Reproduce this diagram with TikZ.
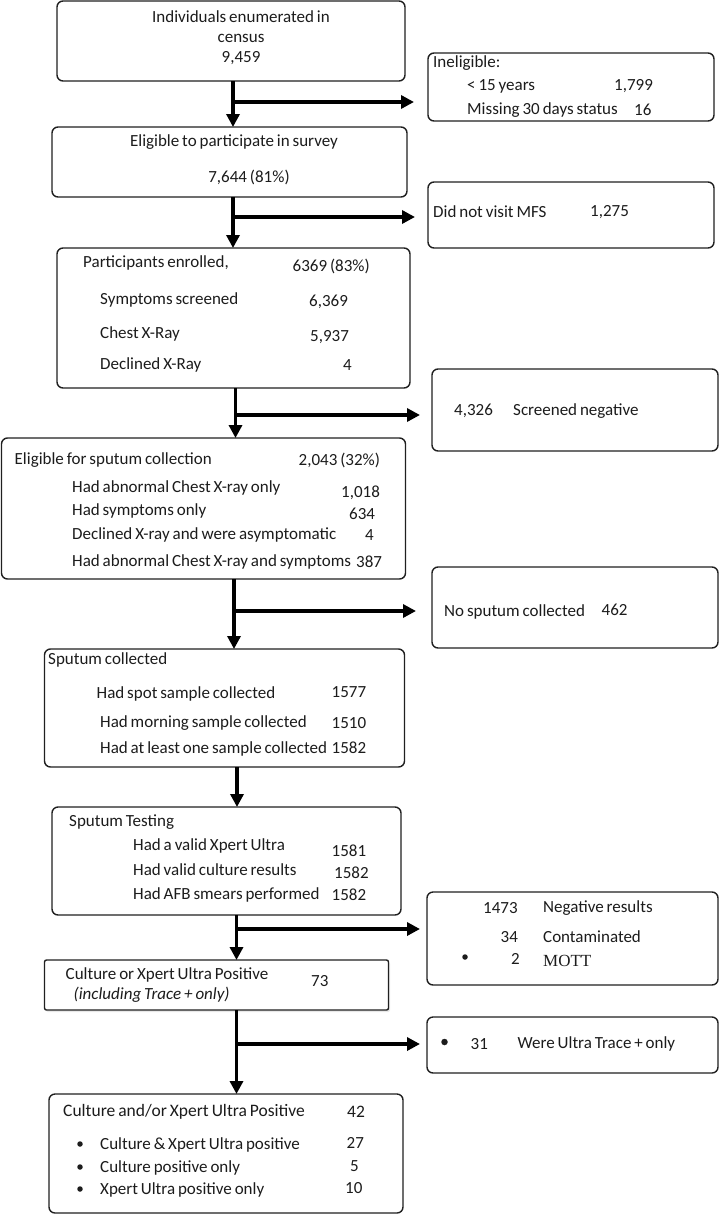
\documentclass[tikz,border=0pt]{standalone}
\usepackage{fontspec}
\setmainfont{Carlito}[WordSpace=0.75]
\newfontfamily\timesfont{Liberation Serif}
\usetikzlibrary{arrows.meta, shadows}
\definecolor{inkdark}{HTML}{1C1C1C}
\definecolor{framedark}{HTML}{202020}

\begin{document}
\begin{tikzpicture}[x=1pt, y=-1pt,
  box/.style={draw=framedark, fill=white, line width=1.4pt, rounded corners=6pt,
    anchor=north west, inner sep=0pt, outer sep=0pt},
  lbl/.style={anchor=west, inner sep=0pt, text=inkdark,
    font=\fontsize{17}{20}\selectfont},
  dot/.style={circle, fill=inkdark, inner sep=0pt, minimum size=5.5pt},
  flow/.style={draw=black, line width=3.5pt,
    -{Triangle[length=13pt,width=13pt]}}]
  \useasboundingbox (0,0) rectangle (720,1215);
  % Main column boxes
  \node[box, minimum width=348pt, minimum height=80pt]  (census)     at (57,1) {};
  \node[box, minimum width=355pt, minimum height=70pt]  (eligible)   at (52,127) {};
  \node[box, minimum width=353pt, minimum height=140pt] (enrolled)   at (57,248) {};
  \node[box, minimum width=404pt, minimum height=141pt] (sputumelig) at (1.5,438) {};
  \node[box, minimum width=360pt, minimum height=118pt] (collected)  at (44.5,649) {};
  \node[box, minimum width=349pt, minimum height=108pt] (testing)    at (52,807) {};
  \node[box, rounded corners=2pt, minimum width=344pt, minimum height=50pt,
    drop shadow={shadow xshift=1.5pt, shadow yshift=-2pt, opacity=0.18}]
                                                        (positive)   at (44.5,960) {};
  \node[box, minimum width=354pt, minimum height=119pt] (confirmed)  at (49,1094) {};
  % Exclusion boxes
  \node[box, minimum width=286pt, minimum height=68pt]  (inelig)     at (428,53) {};
  \node[box, minimum width=286pt, minimum height=66pt]  (novisit)    at (428,182) {};
  \node[box, minimum width=286pt, minimum height=82pt]  (screenneg)  at (432,369) {};
  \node[box, minimum width=286pt, minimum height=81pt]  (nosputum)   at (432,567) {};
  \node[box, minimum width=291pt, minimum height=93pt]  (negres)     at (427,892) {};
  \node[box, minimum width=291pt, minimum height=56pt]  (trace)      at (427,1017) {};

  % Census
  \node[lbl, anchor=center, align=center]
    (census-t) at (241,38) {Individuals enumerated in\\census\\9,459};
  \node[lbl] (inelig-h) at (433,63) {Ineligible:};
  \node[lbl] (inelig-a) at (467,86) {< 15 years};
  \node[lbl] (inelig-an) at (614,86) {1,799};
  \node[lbl] (inelig-b) at (467,110) {Missing 30 days status};
  \node[lbl] (inelig-bn) at (634,110) {16};
  % Eligible
  \node[lbl, anchor=center] (eligible-t) at (234,142) {Eligible to participate in survey};
  \node[lbl, anchor=center] (eligible-n) at (249,177) {7,644 (81\%)};
  \node[lbl] (novisit-t) at (433,212) {Did not visit MFS};
  \node[lbl] (novisit-n) at (590,212) {1,275};
  % Enrolled
  \node[lbl] (enrolled-h) at (83,263) {Participants enrolled,};
  \node[lbl] (enrolled-hn) at (292.5,266) {6369 (83\%)};
  \node[lbl] (enrolled-a) at (100,300) {Symptoms screened};
  \node[lbl] (enrolled-an) at (309,302) {6,369};
  \node[lbl] (enrolled-b) at (100,334) {Chest X-Ray};
  \node[lbl] (enrolled-bn) at (310,337) {5,937};
  \node[lbl] (enrolled-c) at (100,365) {Declined X-Ray};
  \node[lbl] (enrolled-cn) at (343,365) {4};
  \node[lbl] (screenneg-n) at (454,411) {4,326};
  \node[lbl] (screenneg-t) at (513,411) {Screened negative};
  % Sputum eligibility
  \node[lbl] (sputumelig-h) at (14.5,460) {Eligible for sputum collection};
  \node[lbl] (sputumelig-hn) at (298.5,460) {2,043 (32\%)};
  \node[lbl] (sputumelig-a) at (72,488) {Had abnormal Chest X-ray only};
  \node[lbl] (sputumelig-an) at (341,493) {1,018};
  \node[lbl] (sputumelig-b) at (72,511) {Had symptoms only};
  \node[lbl] (sputumelig-bn) at (349,514) {634};
  \node[lbl] (sputumelig-c) at (72,535) {Declined X-ray and were asymptomatic};
  \node[lbl] (sputumelig-cn) at (365,535) {4};
  \node[lbl] (sputumelig-d) at (72,562) {Had abnormal Chest X-ray and symptoms};
  \node[lbl] (sputumelig-dn) at (356,562) {387};
  \node[lbl] (nosputum-t) at (444,612) {No sputum collected};
  \node[lbl] (nosputum-n) at (601.5,610) {462};
  % Sputum collected
  \node[lbl] (collected-h) at (48,660) {Sputum collected};
  \node[lbl] (collected-a) at (96.5,694) {Had spot sample collected};
  \node[lbl] (collected-an) at (331.5,692) {1577};
  \node[lbl] (collected-b) at (100,723) {Had morning sample collected};
  \node[lbl] (collected-bn) at (331.5,723) {1510};
  \node[lbl] (collected-c) at (100,749) {Had at least one sample collected};
  \node[lbl] (collected-cn) at (331.5,748) {1582};
  % Testing
  \node[lbl] (testing-h) at (69,822) {Sputum Testing};
  \node[lbl] (testing-a) at (133,846) {Had a valid Xpert Ultra};
  \node[lbl] (testing-an) at (331.5,851) {1581};
  \node[lbl] (testing-b) at (133,870) {Had valid culture results};
  \node[lbl] (testing-bn) at (334,873) {1582};
  \node[lbl] (testing-c) at (133,895) {Had AFB smears performed};
  \node[lbl] (testing-cn) at (331.5,895) {1582};
  \node[lbl] (negres-an) at (483,908) {1473};
  \node[lbl] (negres-a) at (543,908) {Negative results};
  \node[lbl] (negres-bn) at (500.5,937) {34};
  \node[lbl] (negres-b) at (543,937) {Contaminated};
  \node[dot] (negres-dot) at (465,957) {};
  \node[lbl] (negres-cn) at (511,959) {2};
  \node[lbl, font=\timesfont\fontsize{17}{20}\selectfont] (negres-c) at (543,961) {MOTT};
  % Positives
  \node[lbl] (positive-h) at (65.5,975) {Culture or Xpert Ultra Positive};
  \node[lbl, font=\itshape\fontsize{17}{20}\selectfont] (positive-s) at (73.5,995) {(including Trace + only)};
  \node[lbl] (positive-n) at (311,981) {73};
  \node[dot, minimum size=6.5pt] (trace-dot) at (444.5,1042) {};
  \node[lbl] (trace-n) at (470.5,1044) {31};
  \node[lbl] (trace-t) at (517.5,1044) {Were Ultra Trace + only};
  \node[lbl, font=\fontsize{17.5}{20}\selectfont] (confirmed-h) at (63,1112) {Culture and/or Xpert Ultra Positive};
  \node[lbl, font=\fontsize{17.5}{20}\selectfont] (confirmed-hn) at (347,1112) {42};
  \foreach \nm/\yc/\txt/\num/\nx in {
    a/1145/{Culture \& Xpert Ultra positive}/27/346.5,
    b/1168/{Culture positive only}/5/350,
    c/1190/{Xpert Ultra positive only}/10/345
  }{
    \node[dot] (confirmed-\nm dot) at (80,\yc-1) {};
    \node[lbl] (confirmed-\nm) at (100,\yc) {\txt};
    \node[lbl] (confirmed-\nm n) at (\nx,\yc-2) {\num};
  }

  % Trunk junctions
  \coordinate (j1) at (233,102);
  \coordinate (j2) at (233,217);
  \coordinate (j3) at (235.5,415);
  \coordinate (j4) at (234,611);
  \coordinate (j5) at (237,787);
  \coordinate (j6) at (236.5,929);
  \coordinate (j7) at (236.5,1044);
  \draw[flow] (census.south -| j1) -- (eligible.north -| j1);
  \draw[flow] (eligible.south -| j2) -- (enrolled.north -| j2);
  \draw[flow] (enrolled.south -| j3) -- (sputumelig.north -| j3);
  \draw[flow] (sputumelig.south -| j4) -- (collected.north -| j4);
  \draw[flow] (collected.south -| j5) -- (testing.north -| j5);
  \draw[flow] (testing.south -| j6) -- (positive.north -| j6);
  \draw[flow] (positive.south -| j7) -- (confirmed.north -| j7);
  % Branches to exclusions
  \foreach \j/\bx/\gap in {j1/inelig/14, j2/novisit/13, j3/screenneg/12,
                           j4/nosputum/16, j6/negres/7, j7/trace/7}
    \draw[flow, shorten >=\gap pt] (\j) -- (\j -| \bx.west);
\end{tikzpicture}
\end{document}
